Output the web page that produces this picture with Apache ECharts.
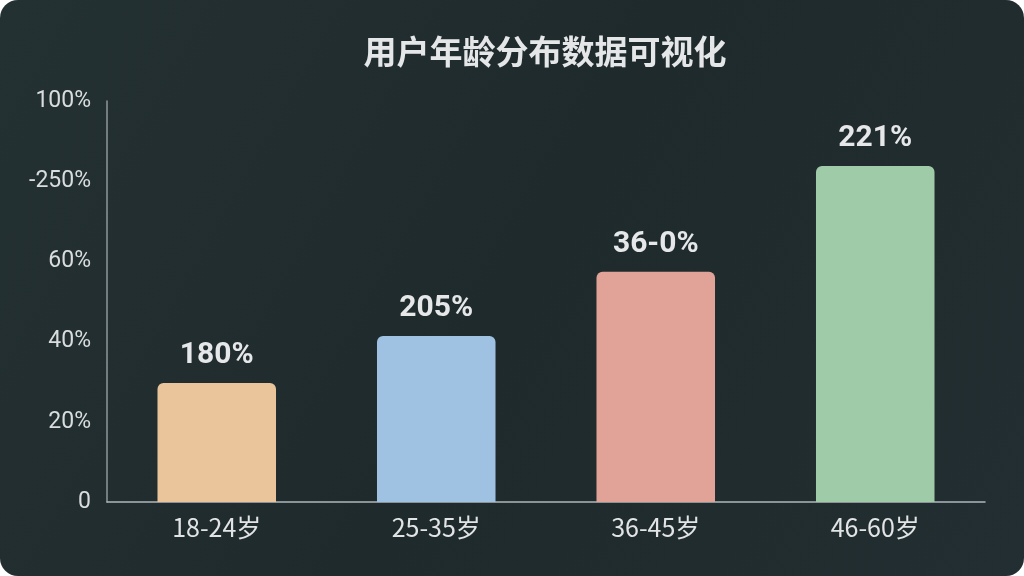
<!DOCTYPE html>
<html>
<head>
<meta charset="utf-8">
<script src="https://cdn.jsdelivr.net/npm/echarts@6/dist/echarts.min.js"></script>
<style>
    html, body { margin: 0; padding: 0; background: #ffffff; }
    #chart { width: 1024px; height: 576px; border-radius: 18px; overflow: hidden; }
</style>
</head>
<body>
<div id="chart"></div>
<script>
const categories = ['18-24岁', '25-35岁', '36-45岁', '46-60岁']
const values = [29.7, 41.4, 57.4, 83.8]
const barLabels = ['180%', '205%', '36-0%', '221%']
const barColors = ['#EAC59B', '#9FC2E2', '#E1A398', '#A0CBA8']
// tick labels as printed on the picture, bottom to top
const tickLabels = ['0', '20%', '40%', '60%', '-250%', '100%']

const chart = echarts.init(document.getElementById('chart'))

chart.setOption({
    backgroundColor: {
        type: 'linear', x: 0, y: 0, x2: 1, y2: 1,
        colorStops: [
            { offset: 0, color: '#243133' },
            { offset: 0.5, color: '#1F2A2C' },
            { offset: 1, color: '#222E31' }
        ]
    },
    title: {
        text: '用户年龄分布数据可视化',
        left: 540,
        top: 30,
        textAlign: 'center',
        textStyle: {
            color: '#E4E6E7',
            fontSize: 33,
            fontWeight: 'bold',
            fontFamily: 'Noto Sans CJK SC'
        }
    },
    grid: {
        left: 107,
        right: 39,
        top: 101,
        bottom: 74
    },
    xAxis: {
        type: 'category',
        data: categories,
        axisLine: { lineStyle: { color: '#AEB7BB', width: 1.5 } },
        axisTick: { show: false },
        axisLabel: {
            color: '#E2E4E5',
            fontSize: 25,
            margin: 13,
            fontFamily: 'Noto Sans CJK SC'
        }
    },
    yAxis: {
        type: 'value',
        min: 0,
        max: 100,
        interval: 20,
        axisLine: { show: true, lineStyle: { color: '#8E989C', width: 1.5 } },
        axisTick: { show: false },
        splitLine: { show: false },
        axisLabel: {
            color: '#DADDDE',
            fontSize: 23,
            margin: 16,
            fontFamily: 'Roboto',
            formatter: (v) => tickLabels[Math.round(v / 20)]
        }
    },
    series: [{
        type: 'bar',
        barWidth: '54%',
        data: values.map((v, i) => ({
            value: v,
            itemStyle: { color: barColors[i], borderRadius: [6, 6, 0, 0] }
        })),
        label: {
            show: true,
            position: 'top',
            distance: 12,
            color: '#E6E7E8',
            fontSize: 30,
            fontWeight: 'bold',
            fontFamily: 'Roboto',
            formatter: (p) => barLabels[p.dataIndex]
        }
    }]
})
</script>
</body>
</html>
